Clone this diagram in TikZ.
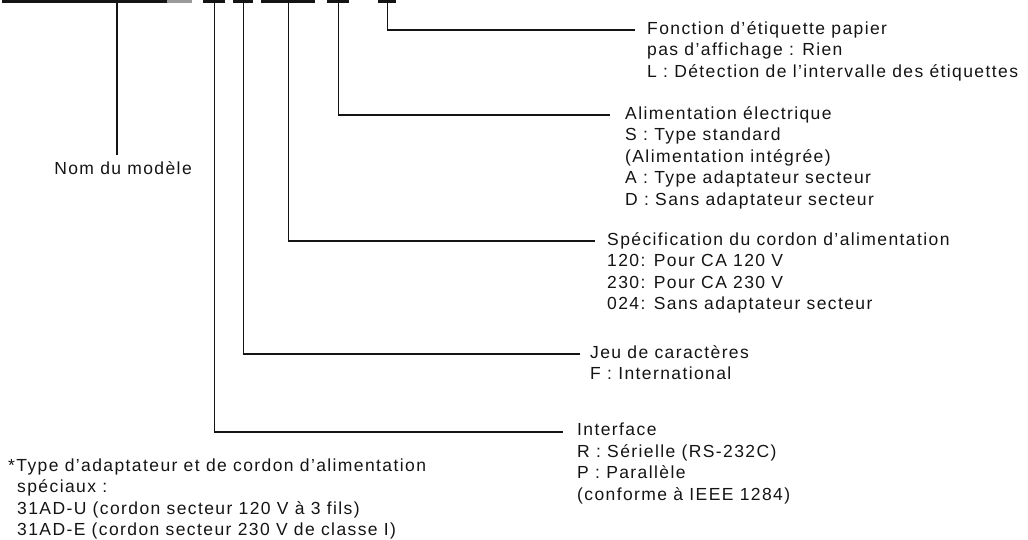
\documentclass[tikz,border=0pt]{standalone}
\usepackage{fontspec}
\setmainfont{Liberation Sans}[LetterSpace=8]
\usetikzlibrary{positioning}
\definecolor{inkblack}{HTML}{141414}
\definecolor{inkgray}{HTML}{9A9A9A}

\begin{document}
\begin{tikzpicture}[x=1pt, y=-1pt,
  bar/.style={fill=inkblack, inner sep=0pt, minimum height=2.5pt, anchor=north west},
  lead/.style={draw=inkblack, line width=1.1pt},
  lbl/.style={font=\fontsize{17.5}{21.5}\selectfont, text=inkblack, align=left, inner sep=0pt, anchor=north west}]
\useasboundingbox (0,0) rectangle (1028,540);
\node[bar, minimum width=165pt] (model) at (2,0) {};
\node[bar, fill=inkgray, minimum width=25pt] (modeltail) at (167,0) {};
\node[bar, minimum width=22pt] (iface) at (203,0) {};
\node[bar, minimum width=20pt] (charset) at (233,0) {};
\node[bar, minimum width=54pt] (cord) at (261,0) {};
\node[bar, minimum width=22pt] (power) at (327,0) {};
\node[bar, minimum width=18pt] (paper) at (378,0) {};

\coordinate (model-tap) at (117,0);
\coordinate (model-foot) at (117,155);
\coordinate (paper-end) at (635,30);
\coordinate (power-end) at (610,115);
\coordinate (cord-end) at (595,241);
\coordinate (charset-end) at (580,354);
\coordinate (iface-end) at (563,432);

\node[lbl, anchor=base east] (model-lbl) at (192,175) {Nom du modèle};
\node[lbl] (paper-lbl) at (647,21) {Fonction d’étiquette papier\\pas d’affichage : Rien\\L : Détection de l’intervalle des étiquettes};
\node[lbl] (power-lbl) at (625,106) {Alimentation électrique\\S : Type standard\\(Alimentation intégrée)\\A : Type adaptateur secteur\\D : Sans adaptateur secteur};
\node[lbl] (cord-lbl) at (607,232) {Spécification du cordon d’alimentation\\120: Pour CA 120 V\\230: Pour CA 230 V\\024: Sans adaptateur secteur};
\node[lbl] (charset-lbl) at (590,345) {Jeu de caractères\\F : International};
\node[lbl] (iface-lbl) at (577,423) {Interface\\R : Sérielle (RS-232C)\\P : Parallèle\\(conforme à IEEE 1284)};
\node[lbl] (note) at (8,458.5) {*Type d’adaptateur et de cordon d’alimentation\\\hspace*{9pt}spéciaux :\\\hspace*{9pt}31AD-U (cordon secteur 120 V à 3 fils)\\\hspace*{9pt}31AD-E (cordon secteur 230 V de classe I)};

\draw[lead] (model-tap) -- (model-foot);
\draw[lead] (paper.south) |- (paper-end);
\draw[lead] (power.south) |- (power-end);
\draw[lead] (cord.south) |- (cord-end);
\draw[lead] (charset.south) |- (charset-end);
\draw[lead] (iface.south) |- (iface-end);
\end{tikzpicture}
\end{document}
